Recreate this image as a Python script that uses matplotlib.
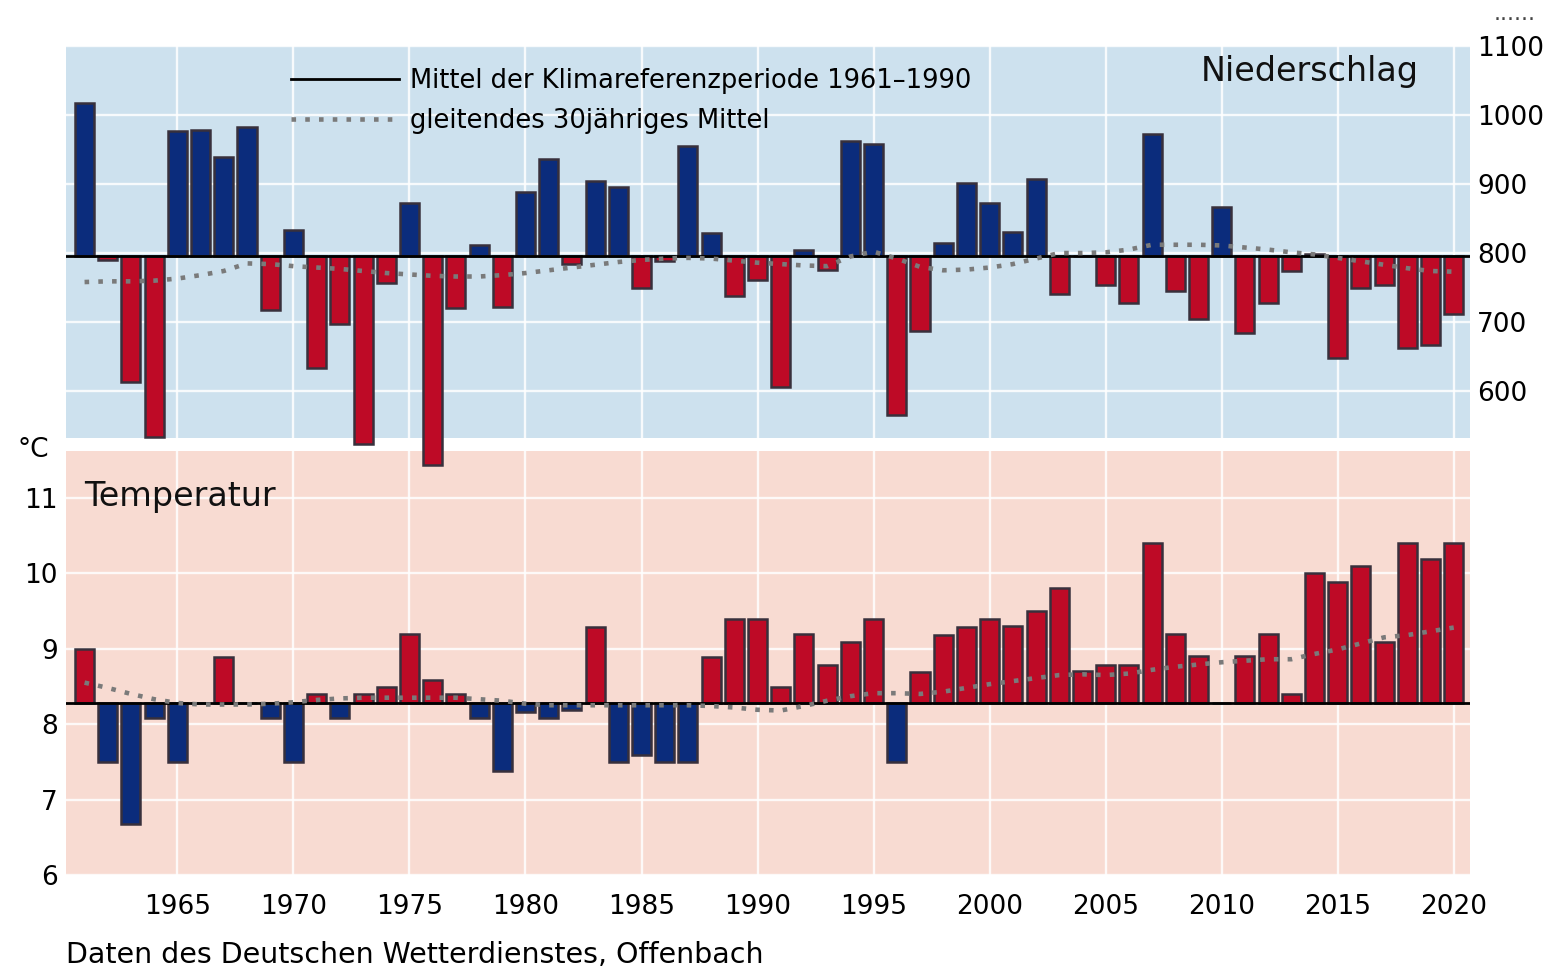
import matplotlib
matplotlib.use('Agg')
from matplotlib import pyplot as plt

plt.rcParams['font.family'] = ['DejaVu Sans']

# DATA
years = list(range(1961, 2021))

niederschlag = [1017, 790, 613, 533, 977, 978, 939, 982, 717, 833,
                633, 697, 523, 756, 873, 493, 720, 812, 722, 889,
                936, 784, 905, 896, 749, 788, 955, 829, 738, 761,
                606, 805, 776, 963, 958, 566, 687, 814, 902, 873,
                831, 908, 740, 795, 753, 728, 972, 745, 704, 867,
                684, 728, 774, 799, 648, 750, 754, 663, 667, 711]

niederschlag_mittel30 = [758, 759, 759, 760, 763, 768, 774, 785, 784, 781,
                         779, 777, 774, 771, 769, 767, 766, 766, 768, 771,
                         775, 779, 783, 787, 790, 792, 793, 792, 789, 786,
                         784, 782, 781, 795, 802, 792, 780, 775, 776, 779,
                         784, 792, 800, 800, 801, 805, 812, 812, 812, 811,
                         808, 805, 801, 798, 793, 788, 783, 778, 774, 773]

temperatur = [9.0, 7.5, 6.68, 8.08, 7.5, 8.28, 8.89, 8.28, 8.08, 7.5,
              8.4, 8.08, 8.4, 8.49, 9.2, 8.59, 8.4, 8.08, 7.38, 8.16,
              8.08, 8.19, 9.29, 7.5, 7.59, 7.5, 7.5, 8.89, 9.39, 9.39,
              8.49, 9.2, 8.79, 9.09, 9.39, 7.5, 8.69, 9.18, 9.29, 9.39,
              9.3, 9.5, 9.81, 8.71, 8.79, 8.79, 10.4, 9.2, 8.9, 8.28,
              8.9, 9.2, 8.4, 10.0, 9.89, 10.1, 9.09, 10.4, 10.19, 10.4]

temperatur_mittel30 = [8.55, 8.48, 8.40, 8.33, 8.28, 8.26, 8.26, 8.26, 8.27, 8.29,
                       8.32, 8.34, 8.35, 8.35, 8.35, 8.35, 8.35, 8.33, 8.31, 8.27,
                       8.25, 8.25, 8.25, 8.25, 8.25, 8.25, 8.25, 8.24, 8.22, 8.19,
                       8.18, 8.24, 8.31, 8.37, 8.41, 8.41, 8.40, 8.43, 8.48, 8.53,
                       8.57, 8.61, 8.65, 8.66, 8.65, 8.67, 8.72, 8.76, 8.79, 8.82,
                       8.84, 8.86, 8.86, 8.93, 8.99, 9.07, 9.15, 9.18, 9.23, 9.28]

# Mittel der Klimareferenzperiode 1961-1990
niederschlag_ref = 795
temperatur_ref = 8.28

jahr_ticks = [1965, 1970, 1975, 1980, 1985, 1990, 1995, 2000, 2005, 2010, 2015, 2020]
niederschlag_ticks = [600, 700, 800, 900, 1000, 1100]
temperatur_ticks = [6, 7, 8, 9, 10, 11]

# COLORS
BLAU = '#0b2c7c'
ROT = '#be0a26'
KANTE = '#38303c'
GRAU = '#7a7a7a'

"""
PLOTTING
"""
fig = plt.figure(figsize=(15.66, 9.8), dpi=100)
ax_n = fig.add_axes([66 / 1566, 1 - 438 / 980, 1404 / 1566, 392 / 980])
ax_t = fig.add_axes([66 / 1566, 1 - 875 / 980, 1404 / 1566, 424 / 980])
ax_n.set_zorder(3)

# NIEDERSCHLAG
ax_n.set_facecolor('#cde1ee')
n_diff = [v - niederschlag_ref for v in niederschlag]
n_farben = [BLAU if d > 0 else ROT for d in n_diff]
ax_n.bar(years, n_diff, bottom=niederschlag_ref, width=0.82, color=n_farben,
         edgecolor=KANTE, linewidth=1.8, zorder=3, clip_on=False)
ax_n.axhline(niederschlag_ref, color='black', lw=2, zorder=4,
             label='Mittel der Klimareferenzperiode 1961\u20131990')
ax_n.plot(years, niederschlag_mittel30, color=GRAU, lw=3.3, linestyle=(0, (1, 2)),
          zorder=5, label='gleitendes 30j\u00e4hriges Mittel')

ax_n.set_xlim(1960.2, 2020.7)
ax_n.set_ylim(532, 1100)
ax_n.set_xticks(jahr_ticks)
ax_n.set_xticklabels([])
ax_n.set_yticks(niederschlag_ticks)
ax_n.yaxis.tick_right()
ax_n.tick_params(length=0, labelsize=19, pad=5)
ax_n.grid(True, color='white', lw=1.7, alpha=0.85, zorder=0)
ax_n.set_axisbelow(True)
for s in ax_n.spines.values():
    s.set_visible(False)

ax_n.text(0.808, 0.934, 'Niederschlag', transform=ax_n.transAxes, fontsize=24,
          va='center', ha='left', color='#111111')
ax_n.legend(loc='upper left', bbox_to_anchor=(0.16, 0.945), frameon=False, fontsize=18.5,
            handlelength=4.2, handletextpad=0.45, labelspacing=0.55, borderpad=0,
            borderaxespad=0)

# TEMPERATUR
ax_t.set_facecolor('#f8dbd2')
t_diff = [v - temperatur_ref for v in temperatur]
t_farben = [ROT if d > 0 else BLAU for d in t_diff]
ax_t.bar(years, t_diff, bottom=temperatur_ref, width=0.82, color=t_farben,
         edgecolor=KANTE, linewidth=1.8, zorder=3)
ax_t.axhline(temperatur_ref, color='black', lw=2, zorder=4)
ax_t.plot(years, temperatur_mittel30, color=GRAU, lw=3.3, linestyle=(0, (1, 2)), zorder=5)

ax_t.set_xlim(1960.2, 2020.7)
ax_t.set_ylim(6, 11.62)
ax_t.set_xticks(jahr_ticks)
ax_t.set_yticks(temperatur_ticks)
ax_t.tick_params(length=0, labelsize=19, pad=6)
ax_t.tick_params(axis='x', pad=14)
ax_t.grid(True, color='white', lw=1.7, alpha=0.85, zorder=0)
ax_t.set_axisbelow(True)
for s in ax_t.spines.values():
    s.set_visible(False)

ax_t.text(0.0128, 0.892, 'Temperatur', transform=ax_t.transAxes, fontsize=24,
          va='center', ha='left', color='#111111')

# EXTRA TEXT
fig.text(18 / 1566, 1 - 450 / 980, '\u00b0C', fontsize=19, va='center', ha='left')
fig.text(1515 / 1566, 1 - 14 / 980, '......', fontsize=16, va='center', ha='center',
         color='#444444')
fig.text(66 / 1566, 1 - 955 / 980, 'Daten des Deutschen Wetterdienstes, Offenbach',
         fontsize=20.5, va='center', ha='left')

plt.savefig('out.png', dpi=100)
